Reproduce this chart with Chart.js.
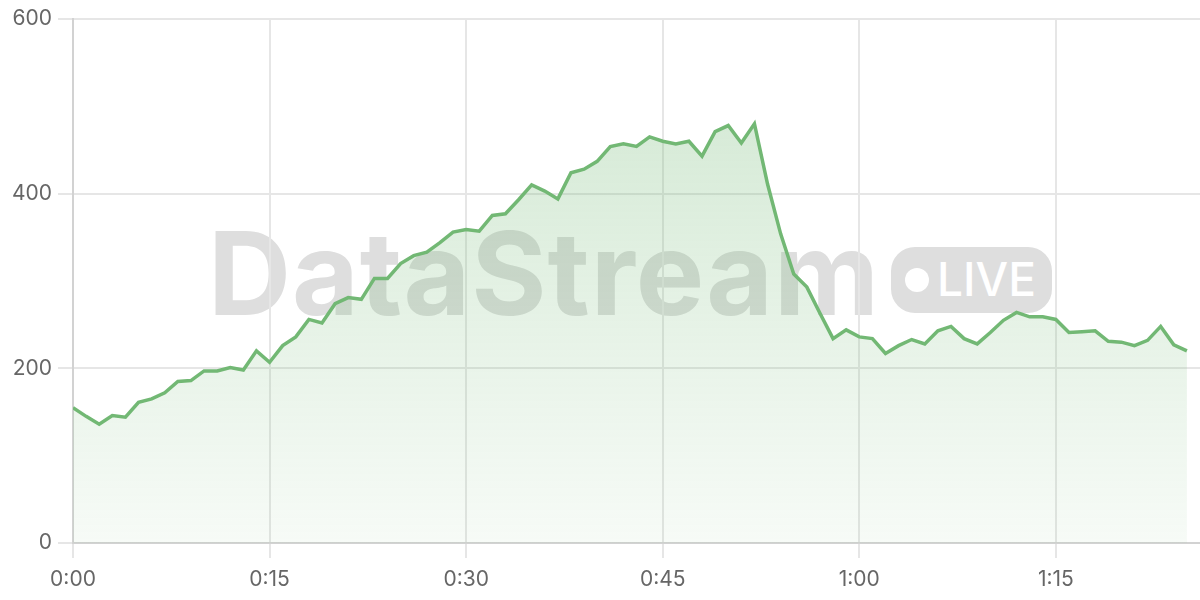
<!DOCTYPE html>
<html>
<head>
<meta charset="utf-8">
<script src="https://cdn.jsdelivr.net/npm/chart.js@4/dist/chart.umd.min.js"></script>
<style>
  html, body { margin: 0; padding: 0; background: #ffffff; }
  #wrap { position: relative; width: 1200px; height: 600px; overflow: hidden; }
  #wm { position: absolute; left: 0; top: 0; width: 1200px; height: 600px; z-index: 0; }
  #wmText { position: absolute; left: 208px; top: 216px; font-family: Inter, sans-serif; font-weight: 700;
            font-size: 115px; line-height: 1; color: #dedede; letter-spacing: 1px; white-space: nowrap; }
  #badge { position: absolute; left: 891px; top: 247px; width: 161px; height: 66px; border-radius: 24px; background: #dedede; }
  #dot { position: absolute; left: 14px; top: 21px; width: 24px; height: 24px; border-radius: 50%; background: #ffffff; }
  #live { position: absolute; left: 46px; top: 9px; font-family: Inter, sans-serif; font-weight: 500; font-size: 46px;
          line-height: 1; color: #ffffff; white-space: nowrap; }
  #c { position: absolute; left: 0; top: 0; z-index: 1; }
</style>
</head>
<body>
<div id="wrap">
  <div id="wm">
    <div id="wmText">DataStream</div>
    <div id="badge"><div id="dot"></div><div id="live">LIVE</div></div>
  </div>
  <canvas id="c" width="1200" height="600"></canvas>
</div>
<script>
const minutes = [0,1,2,3,4,5,6,7,8,9,10,11,12,13,14,15,16,17,18,19,20,21,22,23,24,25,26,27,28,29,
  30,31,32,33,34,35,36,37,38,39,40,41,42,43,44,45,46,47,48,49,50,51,52,53,54,55,56,57,58,59,
  60,61,62,63,64,65,66,67,68,69,70,71,72,73,74,75,76,77,78,79,80,81,82,83,84,85];
const values = [155,145,136,146,144,161,165,172,185,186,
  197,197,201,198,220,207,226,236,256,252,
  274,281,279,303,303,320,329,333,344,356,
  359,357,375,377,393,410,403,394,424,428,
  437,454,457,454,465,460,457,460,443,471,
  478,458,480,411,354,308,293,263,234,244,
  236,234,217,226,233,228,243,248,234,228,
  241,255,264,259,259,256,241,242,243,231,
  230,226,232,248,227,220];
const xTicks = [0,15,30,45,60,75];
const xTickLabels = ['0:00','0:15','0:30','0:45','1:00','1:15'];
const yTicks = [0,200,400,600];

Chart.defaults.font.family = 'Inter, sans-serif';
Chart.defaults.font.size = 21;
Chart.defaults.color = '#666666';

const ctx = document.getElementById('c').getContext('2d');
new Chart(ctx, {
  type: 'line',
  data: {
    datasets: [{
      data: minutes.map((m, i) => ({ x: m, y: values[i] })),
      borderColor: '#72b874',
      borderWidth: 3.5,
      pointRadius: 0,
      tension: 0,
      fill: 'origin',
      backgroundColor: (c) => {
        const a = c.chart.chartArea;
        if (!a) return 'rgba(114,184,116,0.2)';
        const g = c.chart.ctx.createLinearGradient(0, a.top, 0, a.bottom);
        g.addColorStop(0, 'rgba(114,184,116,0.34)');
        g.addColorStop(1, 'rgba(114,184,116,0.06)');
        return g;
      }
    }]
  },
  options: {
    responsive: false,
    animation: false,
    devicePixelRatio: 1,
    layout: { padding: { top: 19, right: 0, left: 0, bottom: 0 } },
    plugins: { legend: { display: false }, tooltip: { enabled: false } },
    scales: {
      x: {
        type: 'linear',
        min: 0,
        max: 86,
        afterBuildTicks: (s) => { s.ticks = xTicks.map(v => ({ value: v })); },
        afterFit: (s) => { s.height = 57; },
        ticks: {
          padding: 9,
          maxRotation: 0,
          callback: (v) => { const k = xTicks.indexOf(v); return k >= 0 ? xTickLabels[k] : ''; }
        },
        grid: { color: '#e6e6e6', lineWidth: 2, tickLength: 15 },
        border: { color: '#d2d2d2', width: 2 }
      },
      y: {
        min: 0,
        max: 600,
        afterBuildTicks: (s) => { s.ticks = yTicks.map(v => ({ value: v })); },
        afterFit: (s) => { s.width = 73; },
        ticks: { padding: 6 },
        grid: { color: '#e6e6e6', lineWidth: 2, tickLength: 15 },
        border: { color: '#d2d2d2', width: 2 }
      }
    }
  }
});
</script>
</body>
</html>
